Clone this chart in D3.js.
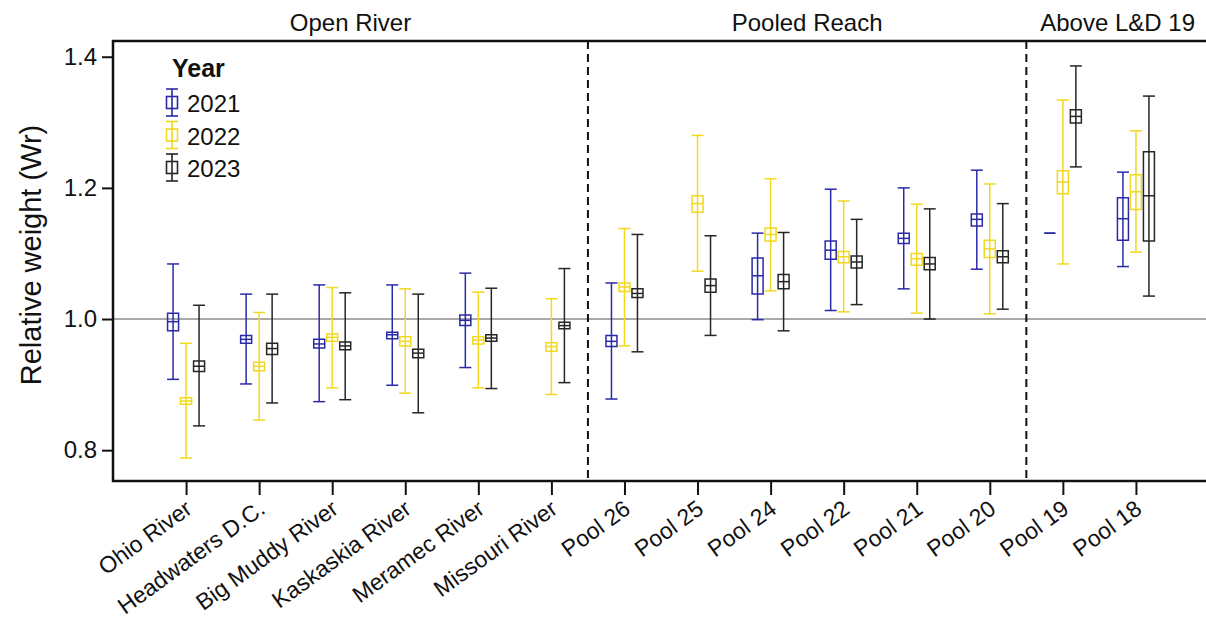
<!DOCTYPE html>
<html>
<head>
<meta charset="utf-8">
<script src="https://cdn.jsdelivr.net/npm/d3@7"></script>
<style>
  body { margin: 0; background: #fff; }
  svg { display: block; font-family: "Liberation Sans", Arial, sans-serif; }
  .tick text { font-size: 24px; fill: #111; }
</style>
</head>
<body>
<div id="chart"></div>
<script>
// sites along the river, left to right
const sites = ["Ohio River", "Headwaters D.C.", "Big Muddy River", "Kaskaskia River",
  "Meramec River", "Missouri River", "Pool 26", "Pool 25", "Pool 24", "Pool 22",
  "Pool 21", "Pool 20", "Pool 19", "Pool 18"];
const regionNames = ["Open River", "Pooled Reach", "Above L&D 19"];
const regionFirstSite = [0, 6, 12];
const years = ["2021", "2022", "2023"];
const yearColors = ["#2a2aa8", "#f2d81e", "#262626"];
const yTicks = [0.8, 1.0, 1.2, 1.4];

// Wr per site: whisker low/high, box low/high and middle line
const mid2021 = [0.996, 0.969, 0.962, 0.976, 0.998, null, 0.966, null, 1.066, 1.105, 1.123, 1.152, 1.131, 1.153];
const boxLo2021 = [0.982, 0.963, 0.956, 0.970, 0.990, null, 0.958, null, 1.038, 1.091, 1.115, 1.142, 1.131, 1.120];
const boxHi2021 = [1.009, 0.975, 0.969, 0.980, 1.006, null, 0.975, null, 1.093, 1.119, 1.131, 1.160, 1.131, 1.185];
const lo2021 = [0.908, 0.901, 0.874, 0.899, 0.926, null, 0.878, null, 0.999, 1.013, 1.046, 1.076, null, 1.080];
const hi2021 = [1.084, 1.038, 1.052, 1.052, 1.070, null, 1.055, null, 1.131, 1.198, 1.200, 1.227, null, 1.224];

const mid2022 = [0.875, 0.928, 0.972, 0.966, 0.968, 0.958, 1.049, 1.176, 1.129, 1.095, 1.092, 1.107, 1.209, 1.194];
const boxLo2022 = [0.870, 0.921, 0.966, 0.959, 0.962, 0.951, 1.042, 1.163, 1.119, 1.086, 1.082, 1.094, 1.191, 1.167];
const boxHi2022 = [0.880, 0.934, 0.977, 0.973, 0.973, 0.964, 1.055, 1.188, 1.139, 1.103, 1.100, 1.120, 1.226, 1.220];
const lo2022 = [0.788, 0.846, 0.895, 0.887, 0.895, 0.885, 0.959, 1.073, 1.043, 1.011, 1.009, 1.008, 1.084, 1.102];
const hi2022 = [0.963, 1.010, 1.048, 1.046, 1.041, 1.031, 1.138, 1.280, 1.214, 1.180, 1.175, 1.206, 1.334, 1.287];

const mid2023 = [0.928, 0.955, 0.959, 0.948, 0.971, 0.990, 1.039, 1.051, 1.057, 1.087, 1.084, 1.095, 1.309, 1.188];
const boxLo2023 = [0.920, 0.946, 0.953, 0.941, 0.966, 0.985, 1.033, 1.041, 1.046, 1.078, 1.075, 1.086, 1.299, 1.119];
const boxHi2023 = [0.936, 0.963, 0.965, 0.954, 0.976, 0.995, 1.046, 1.061, 1.068, 1.096, 1.094, 1.104, 1.319, 1.255];
const lo2023 = [0.837, 0.872, 0.877, 0.857, 0.894, 0.903, 0.950, 0.975, 0.982, 1.022, 1.000, 1.015, 1.232, 1.035];
const hi2023 = [1.021, 1.038, 1.040, 1.038, 1.047, 1.077, 1.129, 1.127, 1.132, 1.152, 1.168, 1.176, 1.386, 1.340];

const stats = [
  [mid2021, boxLo2021, boxHi2021, lo2021, hi2021],
  [mid2022, boxLo2022, boxHi2022, lo2022, hi2022],
  [mid2023, boxLo2023, boxHi2023, lo2023, hi2023],
];

const W = 1206, H = 625;
const margin = {top: 41, left: 113, bottom: 144};
const plotRight = 1209;

const svg = d3.select("#chart").append("svg")
  .attr("width", W).attr("height", H);

const x = d3.scalePoint().domain(sites)
  .range([margin.left, plotRight]).padding(1);
const dodge = d3.scaleBand().domain(years).range([-19.5, 19.5]);
const y = d3.scaleLinear().domain([0.753, 1.424])
  .range([H - margin.bottom, margin.top]);

// flatten into one record per site/year
const rows = [];
years.forEach((yr, k) => {
  sites.forEach((s, i) => {
    const [m, bl, bh, lo, hi] = stats[k].map(a => a[i]);
    if (m == null) return;
    rows.push({site: s, year: yr, color: yearColors[k], m, bl, bh, lo, hi});
  });
});

// reference line at Wr = 1
svg.append("line")
  .attr("x1", margin.left).attr("x2", plotRight)
  .attr("y1", y(1)).attr("y2", y(1))
  .attr("stroke", "#8c8c8c").attr("stroke-width", 1.5);

// region separators
const sepX = regionFirstSite.slice(1).map(i => (x(sites[i - 1]) + x(sites[i])) / 2);
svg.selectAll(".sep").data(sepX).join("line")
  .attr("class", "sep")
  .attr("x1", d => d).attr("x2", d => d)
  .attr("y1", margin.top).attr("y2", H - margin.bottom)
  .attr("stroke", "#111").attr("stroke-width", 2)
  .attr("stroke-dasharray", "8,5");

// region titles, centred over each panel region
const edges = [margin.left, ...sepX, plotRight];
svg.selectAll(".region").data(regionNames).join("text")
  .attr("class", "region")
  .attr("x", (d, i) => (edges[i] + edges[i + 1]) / 2)
  .attr("y", 31)
  .attr("text-anchor", "middle")
  .attr("font-size", 24).attr("fill", "#111")
  .text(d => d);

// error bars and boxes
const capW = 12, boxW = 11;
const g = svg.append("g");
const marks = g.selectAll(".mark").data(rows).join("g")
  .attr("class", "mark")
  .attr("transform", d => `translate(${x(d.site) + dodge(d.year) + dodge.bandwidth() / 2},0)`)
  .attr("stroke", d => d.color).attr("fill", "none").attr("stroke-width", 1.5);

const withBars = marks.filter(d => d.lo != null);
withBars.append("line")
  .attr("x1", 0).attr("x2", 0)
  .attr("y1", d => y(d.lo)).attr("y2", d => y(d.hi));
withBars.append("line")
  .attr("x1", -capW / 2).attr("x2", capW / 2)
  .attr("y1", d => y(d.lo)).attr("y2", d => y(d.lo));
withBars.append("line")
  .attr("x1", -capW / 2).attr("x2", capW / 2)
  .attr("y1", d => y(d.hi)).attr("y2", d => y(d.hi));
marks.append("path")
  .attr("d", d => `M${-boxW / 2},${y(d.bh)}H${boxW / 2}V${y(d.bl)}H${-boxW / 2}Z`);
marks.append("line")
  .attr("x1", -boxW / 2).attr("x2", boxW / 2)
  .attr("y1", d => y(d.m)).attr("y2", d => y(d.m));

// panel border
svg.append("rect")
  .attr("x", margin.left).attr("y", margin.top)
  .attr("width", plotRight - margin.left)
  .attr("height", H - margin.bottom - margin.top)
  .attr("fill", "none").attr("stroke", "#111").attr("stroke-width", 2.5);

// axes
const yAxis = svg.append("g")
  .attr("transform", `translate(${margin.left},0)`)
  .call(d3.axisLeft(y).tickValues(yTicks).tickFormat(d3.format(".1f"))
    .tickSize(11).tickPadding(5));
yAxis.select(".domain").remove();
yAxis.selectAll(".tick line").attr("stroke", "#111").attr("stroke-width", 2);

const xAxis = svg.append("g")
  .attr("transform", `translate(0,${H - margin.bottom})`)
  .call(d3.axisBottom(x).tickSize(14));
xAxis.select(".domain").remove();
xAxis.selectAll(".tick line").attr("stroke", "#111").attr("stroke-width", 2);
xAxis.selectAll(".tick text")
  .style("font-size", "23px")
  .attr("text-anchor", "end")
  .attr("y", 0).attr("dy", 0)
  .attr("transform", "translate(7,31) rotate(-36)");

svg.append("text")
  .attr("transform", `translate(41,${(margin.top + H - margin.bottom) / 2 - 6}) rotate(-90)`)
  .attr("text-anchor", "middle")
  .attr("font-size", 29).attr("fill", "#111")
  .text("Relative weight (Wr)");

// legend
const leg = svg.append("g").attr("transform", "translate(172,0)");
leg.append("text")
  .attr("x", 0).attr("y", 77)
  .attr("font-size", 25).attr("font-weight", "bold").attr("fill", "#111")
  .text("Year");
const items = leg.selectAll(".item").data(years).join("g")
  .attr("class", "item")
  .attr("transform", (d, i) => `translate(0,${102.5 + i * 32.5})`);
items.append("g")
  .attr("stroke", (d, i) => yearColors[i]).attr("fill", "none").attr("stroke-width", 1.6)
  .each(function () {
    const s = d3.select(this);
    s.append("line").attr("x1", 0).attr("x2", 0).attr("y1", -13.5).attr("y2", 13.5);
    s.append("line").attr("x1", -6).attr("x2", 6).attr("y1", -13.5).attr("y2", -13.5);
    s.append("line").attr("x1", -6).attr("x2", 6).attr("y1", 13.5).attr("y2", 13.5);
    s.append("rect").attr("x", -5.5).attr("y", -6).attr("width", 11).attr("height", 12);
  });
items.append("text")
  .attr("x", 15).attr("y", 9.5)
  .attr("font-size", 24).attr("fill", "#111")
  .text(d => d);
</script>
</body>
</html>
